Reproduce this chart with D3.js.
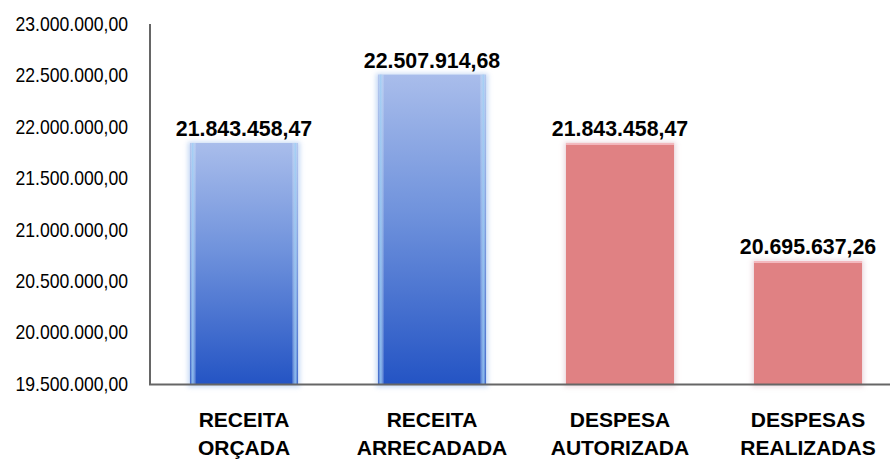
<!DOCTYPE html>
<html><head><meta charset="utf-8">
<script src="https://cdn.jsdelivr.net/npm/d3@7"></script>
<style>body{margin:0;background:#fff}svg{display:block}</style>
</head><body>
<script>
const categories = [["RECEITA","ORÇADA"],["RECEITA","ARRECADADA"],["DESPESA","AUTORIZADA"],["DESPESAS","REALIZADAS"]];
const values = [21843458.47, 22507914.68, 21843458.47, 20695637.26];
const valueLabels = ["21.843.458,47","22.507.914,68","21.843.458,47","20.695.637,26"];
const tickValues = [19500000,20000000,20500000,21000000,21500000,22000000,22500000,23000000];
const tickLabels = ["19.500.000,00","20.000.000,00","20.500.000,00","21.000.000,00","21.500.000,00","22.000.000,00","22.500.000,00","23.000.000,00"];
const kinds = ["receita","receita","despesa","despesa"];

const W=890,H=459;
const ARIAL="'Liberation Sans',Arial,sans-serif";
const svg=d3.select("body").append("svg").attr("width",W).attr("height",H);
const defs=svg.append("defs");
const gb=defs.append("linearGradient").attr("id","gBlue").attr("x1",0).attr("y1",0).attr("x2",0).attr("y2",1);
gb.append("stop").attr("offset","0%").attr("stop-color","#a9bdeb");
gb.append("stop").attr("offset","45%").attr("stop-color","#6f92dc");
gb.append("stop").attr("offset","100%").attr("stop-color","#2454c4");
const gs=defs.append("linearGradient").attr("id","gSide").attr("x1",0).attr("y1",0).attr("x2",1).attr("y2",0);
gs.append("stop").attr("offset","0%").attr("stop-color","#ffffff").attr("stop-opacity",0.0);
gs.append("stop").attr("offset","2.5%").attr("stop-color","#9fd2f7").attr("stop-opacity",0.8);
gs.append("stop").attr("offset","6%").attr("stop-color","#ffffff").attr("stop-opacity",0);
gs.append("stop").attr("offset","94%").attr("stop-color","#ffffff").attr("stop-opacity",0);
gs.append("stop").attr("offset","97.5%").attr("stop-color","#9fd2f7").attr("stop-opacity",0.8);
gs.append("stop").attr("offset","100%").attr("stop-color","#ffffff").attr("stop-opacity",0.0);
const f=defs.append("filter").attr("id","glow").attr("x","-20%").attr("y","-20%").attr("width","140%").attr("height","140%");
f.append("feGaussianBlur").attr("stdDeviation",2.5);

const x=d3.scaleBand().domain(d3.range(values.length)).range([150,902]).paddingInner(0.425).paddingOuter(0.2125);
const y=d3.scaleLinear().domain([19500000,23000000]).range([384,24]);

const sxTick=0.88;
const yAxis=d3.axisLeft(y).tickValues(tickValues).tickSize(0).tickFormat((d,i)=>tickLabels[i]);
const ga=svg.append("g").attr("transform","translate(150,0)").call(yAxis);
ga.select(".domain").remove();
ga.selectAll("text").attr("font-family",ARIAL).attr("font-size",20).attr("fill","#000")
  .attr("x",-22/sxTick).attr("transform",`scale(${sxTick},1)`);

const sxVal=0.97;
const bars=svg.append("g");
values.forEach((v,i)=>{
  const bx=x(i), bw=x.bandwidth(), by=y(v), bh=384-y(v);
  const g=bars.append("g");
  g.append("rect").attr("x",bx-2).attr("y",by-1).attr("width",bw+4).attr("height",bh+4)
    .attr("fill",kinds[i]==="receita"?"#8fb4ea":"#d9b8c4").attr("opacity",0.5).attr("filter","url(#glow)");
  g.append("rect").attr("x",bx).attr("y",by).attr("width",bw).attr("height",bh)
    .attr("fill",kinds[i]==="receita"?"url(#gBlue)":"#e08183");
  if(kinds[i]==="receita"){
    g.append("rect").attr("x",bx).attr("y",by).attr("width",bw).attr("height",bh).attr("fill","url(#gSide)");
  } else {
    g.append("rect").attr("x",bx).attr("y",by).attr("width",bw).attr("height",2).attr("fill","#f3b9bf");
  }
  svg.append("text").attr("x",(bx+bw/2)/sxVal).attr("y",by-7).attr("text-anchor","middle")
    .attr("transform",`scale(${sxVal},1)`)
    .attr("font-family",ARIAL).attr("font-weight","bold").attr("font-size",22)
    .attr("fill","#000").text(valueLabels[i]);
  const t=svg.append("text").attr("text-anchor","middle")
    .attr("font-family",ARIAL).attr("font-weight","bold").attr("font-size",21).attr("fill","#000");
  categories[i].forEach((s,k)=>t.append("tspan").attr("x",bx+bw/2).attr("y",427+k*28).text(s));
});

svg.append("line").attr("x1",150).attr("x2",150).attr("y1",24).attr("y2",385).attr("stroke","#666").attr("stroke-width",2);
svg.append("line").attr("x1",149).attr("x2",890).attr("y1",384.5).attr("y2",384.5).attr("stroke","#666").attr("stroke-width",2);
</script>
</body></html>
